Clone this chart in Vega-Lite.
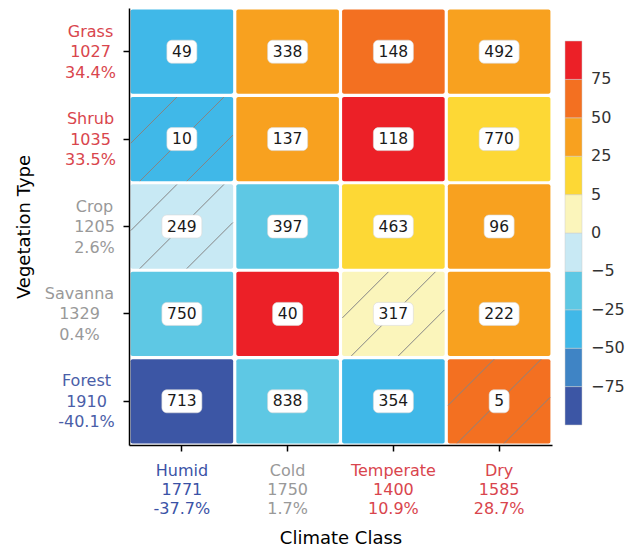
{
  "$schema": "https://vega.github.io/schema/vega-lite/v6.json",
  "width": 423,
  "height": 437,
  "autosize": "none",
  "padding": {"left": 129, "top": 8, "right": 76, "bottom": 106},
  "config": {"font": "DejaVu Sans", "view": {"stroke": null}},
  "data": {
    "values": [
      {"veg": "Grass|1027|34.4%", "clim": "Humid|1771|-37.7%", "n": 49, "cls": 2, "hatch": false},
      {"veg": "Grass|1027|34.4%", "clim": "Cold|1750|1.7%", "n": 338, "cls": 7, "hatch": false},
      {"veg": "Grass|1027|34.4%", "clim": "Temperate|1400|10.9%", "n": 148, "cls": 8, "hatch": false},
      {"veg": "Grass|1027|34.4%", "clim": "Dry|1585|28.7%", "n": 492, "cls": 7, "hatch": false},
      {"veg": "Shrub|1035|33.5%", "clim": "Humid|1771|-37.7%", "n": 10, "cls": 2, "hatch": true},
      {"veg": "Shrub|1035|33.5%", "clim": "Cold|1750|1.7%", "n": 137, "cls": 7, "hatch": false},
      {"veg": "Shrub|1035|33.5%", "clim": "Temperate|1400|10.9%", "n": 118, "cls": 9, "hatch": false},
      {"veg": "Shrub|1035|33.5%", "clim": "Dry|1585|28.7%", "n": 770, "cls": 6, "hatch": false},
      {"veg": "Crop|1205|2.6%", "clim": "Humid|1771|-37.7%", "n": 249, "cls": 4, "hatch": true},
      {"veg": "Crop|1205|2.6%", "clim": "Cold|1750|1.7%", "n": 397, "cls": 3, "hatch": false},
      {"veg": "Crop|1205|2.6%", "clim": "Temperate|1400|10.9%", "n": 463, "cls": 6, "hatch": false},
      {"veg": "Crop|1205|2.6%", "clim": "Dry|1585|28.7%", "n": 96, "cls": 7, "hatch": false},
      {"veg": "Savanna|1329|0.4%", "clim": "Humid|1771|-37.7%", "n": 750, "cls": 3, "hatch": false},
      {"veg": "Savanna|1329|0.4%", "clim": "Cold|1750|1.7%", "n": 40, "cls": 9, "hatch": false},
      {"veg": "Savanna|1329|0.4%", "clim": "Temperate|1400|10.9%", "n": 317, "cls": 5, "hatch": true},
      {"veg": "Savanna|1329|0.4%", "clim": "Dry|1585|28.7%", "n": 222, "cls": 7, "hatch": false},
      {"veg": "Forest|1910|-40.1%", "clim": "Humid|1771|-37.7%", "n": 713, "cls": 0, "hatch": false},
      {"veg": "Forest|1910|-40.1%", "clim": "Cold|1750|1.7%", "n": 838, "cls": 3, "hatch": false},
      {"veg": "Forest|1910|-40.1%", "clim": "Temperate|1400|10.9%", "n": 354, "cls": 2, "hatch": false},
      {"veg": "Forest|1910|-40.1%", "clim": "Dry|1585|28.7%", "n": 5, "cls": 8, "hatch": true}
    ]
  },
  "encoding": {
    "x": {
      "field": "clim",
      "type": "nominal",
      "sort": ["Humid|1771|-37.7%", "Cold|1750|1.7%", "Temperate|1400|10.9%", "Dry|1585|28.7%"],
      "scale": {"paddingInner": 0.03, "paddingOuter": 0.015},
      "axis": {
        "title": "Climate Class",
        "titleFontSize": 18,
        "titleFontWeight": "normal",
        "titleColor": "#000000",
        "titleX": 211.5,
        "titleY": 93,
        "titleAlign": "center",
        "titleBaseline": "middle",
        "labelExpr": "split(datum.value, '|')",
        "labelAngle": 0,
        "labelAlign": "center",
        "labelBaseline": "top",
        "labelFontSize": 16,
        "labelLineHeight": 19.3,
        "labelPadding": 11,
        "labelColor": {
          "condition": [
            {"test": "indexof(datum.value, 'Humid') == 0", "value": "#3a52a6"},
            {"test": "indexof(datum.value, 'Cold') == 0", "value": "#999999"}
          ],
          "value": "#d9454d"
        },
        "domainColor": "#000000",
        "domainWidth": 1.5,
        "tickColor": "#000000",
        "tickWidth": 1.5,
        "tickSize": 6
      }
    },
    "y": {
      "field": "veg",
      "type": "nominal",
      "sort": ["Grass|1027|34.4%", "Shrub|1035|33.5%", "Crop|1205|2.6%", "Savanna|1329|0.4%", "Forest|1910|-40.1%"],
      "scale": {"paddingInner": 0.035, "paddingOuter": 0.0175},
      "axis": {
        "title": "Vegetation Type",
        "titleFontSize": 18,
        "titleFontWeight": "normal",
        "titleColor": "#000000",
        "titleX": -105,
        "titleY": 218.5,
        "titleAngle": -90,
        "titleAlign": "center",
        "titleBaseline": "middle",
        "labelExpr": "split(datum.value, '|')",
        "labelAlign": "center",
        "labelBaseline": "middle",
        "labelOffset": -20,
        "labelFontSize": 16,
        "labelLineHeight": 20.5,
        "labelPadding": {
          "condition": [
            {"test": "indexof(datum.value, 'Crop') == 0", "value": 29},
            {"test": "indexof(datum.value, 'Savanna') == 0", "value": 44},
            {"test": "indexof(datum.value, 'Forest') == 0", "value": 37}
          ],
          "value": 33
        },
        "labelColor": {
          "condition": [
            {"test": "indexof(datum.value, 'Forest') == 0", "value": "#4a5ea8"},
            {"test": "indexof(datum.value, 'Crop') == 0 || indexof(datum.value, 'Savanna') == 0", "value": "#999999"}
          ],
          "value": "#d9454d"
        },
        "domainColor": "#000000",
        "domainWidth": 1.5,
        "tickColor": "#000000",
        "tickWidth": 1.5,
        "tickSize": 6
      }
    }
  },
  "layer": [
    {
      "mark": {"type": "rect", "cornerRadius": 2},
      "encoding": {
        "color": {
          "field": "cls",
          "type": "quantitative",
          "scale": {
            "type": "quantize",
            "domain": [0, 10],
            "nice": false,
            "zero": false,
            "range": ["#3c56a5", "#3f84c5", "#40b8e8", "#5ec8e4", "#c8e9f4", "#fbf5bb", "#fdd835", "#f8a11f", "#f37021", "#ec2027"]
          },
          "legend": {
            "type": "gradient",
            "orient": "none",
            "legendX": 436,
            "legendY": 33,
            "direction": "vertical",
            "title": null,
            "gradientLength": 384,
            "gradientThickness": 17,
            "gradientStrokeColor": "#cccccc",
            "gradientStrokeWidth": 0.5,
            "labelFontSize": 16,
            "labelColor": "#333333",
            "labelOffset": 9,
            "labelExpr": "['', '\u221275', '\u221250', '\u221225', '\u22125', '0', '5', '25', '50', '75', ''][round(datum.value)]"
          }
        }
      }
    },
    {
      "transform": [{"filter": "datum.hatch"}],
      "mark": {"type": "rule", "color": "#858585", "strokeWidth": 1, "xOffset": -42, "yOffset": 42, "x2Offset": 42, "y2Offset": -42},
      "encoding": {"x2": {"field": "clim"}, "y2": {"field": "veg"}}
    },
    {
      "transform": [{"filter": "datum.hatch"}],
      "mark": {"type": "rule", "color": "#858585", "strokeWidth": 1, "xOffset": 5, "yOffset": 42, "x2Offset": 51, "y2Offset": -4},
      "encoding": {"x2": {"field": "clim"}, "y2": {"field": "veg"}}
    },
    {
      "transform": [{"filter": "datum.hatch"}],
      "mark": {"type": "rule", "color": "#858585", "strokeWidth": 1, "xOffset": -51, "yOffset": 4, "x2Offset": -5, "y2Offset": -42},
      "encoding": {"x2": {"field": "clim"}, "y2": {"field": "veg"}}
    },
    {
      "transform": [{"filter": "datum.n < 10"}],
      "mark": {"type": "rect", "color": "#ffffff", "stroke": "#d8d8d8", "strokeWidth": 0.6, "width": 20, "height": 23, "cornerRadius": 5}
    },
    {
      "transform": [{"filter": "datum.n >= 10 && datum.n < 100"}],
      "mark": {"type": "rect", "color": "#ffffff", "stroke": "#d8d8d8", "strokeWidth": 0.6, "width": 30, "height": 23, "cornerRadius": 5}
    },
    {
      "transform": [{"filter": "datum.n >= 100"}],
      "mark": {"type": "rect", "color": "#ffffff", "stroke": "#d8d8d8", "strokeWidth": 0.6, "width": 40, "height": 23, "cornerRadius": 5}
    },
    {
      "mark": {"type": "text", "fontSize": 15.5, "color": "#1a1a1a"},
      "encoding": {"text": {"field": "n", "type": "quantitative"}}
    }
  ]
}
